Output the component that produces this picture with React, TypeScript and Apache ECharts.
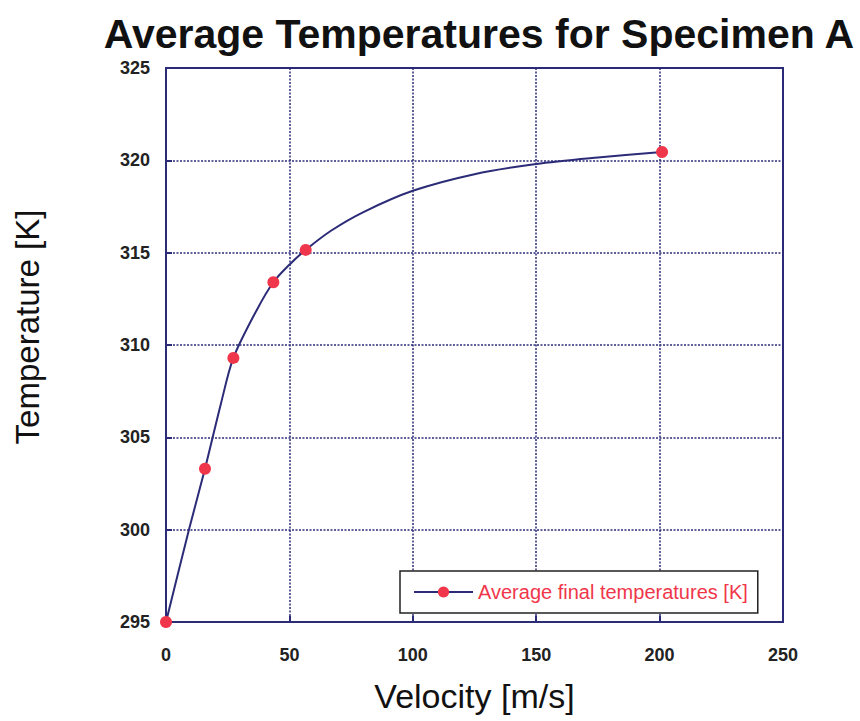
import React, { useEffect, useRef } from "react";
import * as echarts from "echarts";

// Measured points: velocity [m/s] and average final temperature [K]
const velocities = [0, 15.8, 27.3, 43.5, 56.6, 201];
const temperatures = [295, 303.3, 309.3, 313.4, 315.15, 320.45];

// Readings along the fitted trend curve between the measured points
const trendVelocities = [9.5, 22.3, 36.8, 50, 67, 80, 100, 125, 150, 175];
const trendTemperatures = [300.1, 306.85, 311.9, 314.35, 316.2, 317.2, 318.35, 319.25, 319.8, 320.15];

const xTicks = [0, 50, 100, 150, 200, 250];
const yTicks = [295, 300, 305, 310, 315, 320, 325];

const NAVY = "#2b2b78";
const RED = "#f0364a";
const FONT = "'Liberation Sans', Arial, sans-serif";

export default function App() {
  const ref = useRef<HTMLDivElement>(null);

  useEffect(() => {
    if (!ref.current) return;
    const chart = echarts.init(ref.current, null, { renderer: "svg" });

    const measured = velocities.map((v, i) => ({ value: [v, temperatures[i]] }));
    const trend = trendVelocities.map((v, i) => ({
      value: [v, trendTemperatures[i]],
      symbol: "none",
    }));
    const points = [...measured, ...trend].sort((a, b) => a.value[0] - b.value[0]);

    chart.setOption({
      animation: false,
      backgroundColor: "#ffffff",
      title: {
        text: "Average Temperatures for Specimen A",
        left: 474,
        textAlign: "center",
        top: 8,
        textStyle: { fontFamily: FONT, fontSize: 41, fontWeight: "bold", color: "#111" },
      },
      grid: {
        left: 166,
        top: 68,
        right: 77,
        bottom: 99,
        show: true,
        borderColor: NAVY,
        borderWidth: 2,
        backgroundColor: "transparent",
      },
      legend: {
        left: 400,
        top: 571,
        data: ["Average final temperatures [K]"],
        orient: "horizontal",
        itemWidth: 59,
        itemHeight: 14,
        itemGap: 6,
        padding: [11, 10, 11, 13],
        borderColor: "#222",
        borderWidth: 1.5,
        borderRadius: 0,
        backgroundColor: "#ffffff",
        textStyle: { fontFamily: FONT, fontSize: 20, color: RED, padding: [0, 0, 0, 0] },
      },
      xAxis: {
        type: "value",
        min: xTicks[0],
        max: xTicks[xTicks.length - 1],
        interval: 50,
        name: "Velocity [m/s]",
        nameLocation: "middle",
        nameGap: 57,
        nameTextStyle: { fontFamily: FONT, fontSize: 34, color: "#111" },
        axisLine: { show: true, lineStyle: { color: NAVY, width: 2 } },
        axisTick: { show: true, inside: true, length: 6, lineStyle: { color: NAVY, width: 2 } },
        axisLabel: { fontFamily: FONT, fontSize: 18, fontWeight: "bold", color: "#222", margin: 24 },
        splitLine: { show: true, lineStyle: { color: NAVY, type: [2, 1.5], width: 1.5 } },
      },
      yAxis: {
        type: "value",
        min: yTicks[0],
        max: yTicks[yTicks.length - 1],
        interval: 5,
        name: "Temperature [K]",
        nameLocation: "middle",
        nameGap: 122,
        nameTextStyle: { fontFamily: FONT, fontSize: 33, color: "#111", padding: [0, 0, 0, 36] },
        axisLine: { show: true, lineStyle: { color: NAVY, width: 2 } },
        axisTick: { show: true, inside: true, length: 6, lineStyle: { color: NAVY, width: 2 } },
        axisLabel: { fontFamily: FONT, fontSize: 18, fontWeight: "bold", color: "#222", margin: 16 },
        splitLine: { show: true, lineStyle: { color: NAVY, type: [2, 1.5], width: 1.5 } },
      },
      series: [
        {
          name: "Average final temperatures [K]",
          type: "line",
          data: points,
          smooth: 0.3,
          symbol: "circle",
          symbolSize: 12,
          showAllSymbol: true,
          clip: false,
          lineStyle: { color: NAVY, width: 2 },
          itemStyle: { color: RED, borderWidth: 0 },
          z: 3,
        },
      ],
    });

    return () => chart.dispose();
  }, []);

  return (
    <div
      ref={ref}
      style={{ position: "fixed", left: 0, top: 0, width: 860, height: 721, background: "#fff" }}
    />
  );
}
